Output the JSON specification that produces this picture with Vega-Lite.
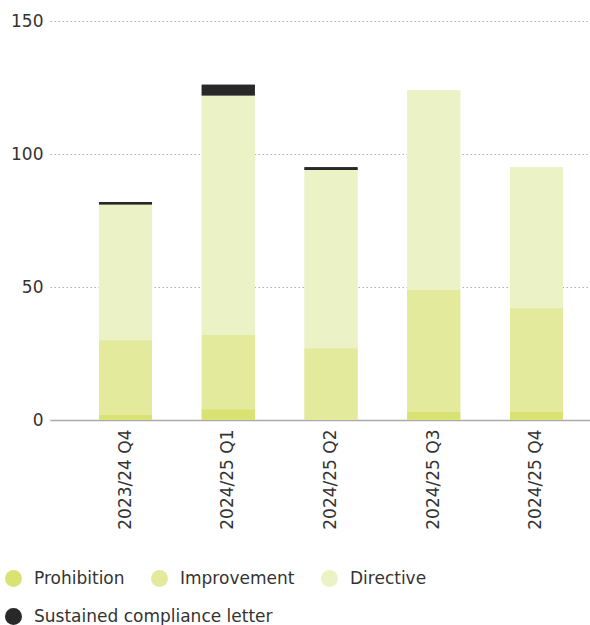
{
  "$schema": "https://vega.github.io/schema/vega-lite/v6.json",
  "autosize": "none",
  "width": 562,
  "height": 399,
  "padding": {"left": 50, "top": 21, "right": 0, "bottom": 205},
  "background": "white",
  "config": {
    "view": {"stroke": null},
    "font": "DejaVu Sans",
    "legend": {
      "title": null,
      "orient": "none",
      "direction": "horizontal",
      "symbolType": "circle",
      "symbolSize": 289,
      "symbolStrokeWidth": 0,
      "symbolOpacity": 1,
      "labelFontSize": 17,
      "labelColor": "#333333",
      "labelOffset": 12,
      "labelLimit": 400,
      "columnPadding": 26
    }
  },
  "data": {
    "values": [
      {"quarter": "2023/24 Q4", "type": "Prohibition", "k": 1, "count": 2},
      {"quarter": "2023/24 Q4", "type": "Improvement", "k": 2, "count": 28},
      {"quarter": "2023/24 Q4", "type": "Directive", "k": 3, "count": 51},
      {"quarter": "2023/24 Q4", "type": "Sustained compliance letter", "k": 4, "count": 1},
      {"quarter": "2024/25 Q1", "type": "Prohibition", "k": 1, "count": 4},
      {"quarter": "2024/25 Q1", "type": "Improvement", "k": 2, "count": 28},
      {"quarter": "2024/25 Q1", "type": "Directive", "k": 3, "count": 90},
      {"quarter": "2024/25 Q1", "type": "Sustained compliance letter", "k": 4, "count": 4},
      {"quarter": "2024/25 Q2", "type": "Prohibition", "k": 1, "count": 0},
      {"quarter": "2024/25 Q2", "type": "Improvement", "k": 2, "count": 27},
      {"quarter": "2024/25 Q2", "type": "Directive", "k": 3, "count": 67},
      {"quarter": "2024/25 Q2", "type": "Sustained compliance letter", "k": 4, "count": 1},
      {"quarter": "2024/25 Q3", "type": "Prohibition", "k": 1, "count": 3},
      {"quarter": "2024/25 Q3", "type": "Improvement", "k": 2, "count": 46},
      {"quarter": "2024/25 Q3", "type": "Directive", "k": 3, "count": 75},
      {"quarter": "2024/25 Q3", "type": "Sustained compliance letter", "k": 4, "count": 0},
      {"quarter": "2024/25 Q4", "type": "Prohibition", "k": 1, "count": 3},
      {"quarter": "2024/25 Q4", "type": "Improvement", "k": 2, "count": 39},
      {"quarter": "2024/25 Q4", "type": "Directive", "k": 3, "count": 53},
      {"quarter": "2024/25 Q4", "type": "Sustained compliance letter", "k": 4, "count": 0}
    ]
  },
  "encoding": {
    "x": {
      "field": "quarter",
      "type": "nominal",
      "sort": null,
      "scale": {"paddingInner": 0.484, "paddingOuter": 0.477},
      "axis": {
        "title": null,
        "labelAngle": -90,
        "labelAlign": "right",
        "labelBaseline": "middle",
        "labelFontSize": 17,
        "labelColor": "#333333",
        "labelPadding": 9,
        "ticks": false,
        "domainColor": "#aaaaaa",
        "domainWidth": 1.5
      }
    },
    "y": {
      "field": "count",
      "type": "quantitative",
      "stack": "zero",
      "scale": {"domain": [0, 150]},
      "axis": {
        "title": null,
        "values": [0, 50, 100, 150],
        "labelFontSize": 17,
        "labelColor": "#333333",
        "labelPadding": 7,
        "ticks": false,
        "domain": false,
        "grid": true,
        "gridColor": "#b0b0b0",
        "gridDash": [1.5, 2.5],
        "gridWidth": 1
      }
    },
    "order": {"field": "k", "type": "quantitative", "sort": "ascending"}
  },
  "layer": [
    {
      "mark": {"type": "bar"},
      "encoding": {
        "color": {
          "field": "type",
          "type": "nominal",
          "scale": {
            "domain": ["Prohibition", "Improvement", "Directive", "Sustained compliance letter"],
            "range": ["#d9e374", "#e3ea9c", "#ebf2c6", "#282828"]
          },
          "legend": {
            "values": ["Prohibition", "Improvement", "Directive"],
            "legendX": -45,
            "legendY": 549
          }
        }
      }
    },
    {
      "mark": {"type": "bar"},
      "encoding": {
        "fill": {
          "field": "type",
          "type": "nominal",
          "scale": {
            "domain": ["Sustained compliance letter", "Prohibition", "Improvement", "Directive"],
            "range": ["#282828", "#d9e374", "#e3ea9c", "#ebf2c6"]
          },
          "legend": {
            "values": ["Sustained compliance letter"],
            "legendX": -45,
            "legendY": 587
          }
        }
      }
    }
  ]
}
